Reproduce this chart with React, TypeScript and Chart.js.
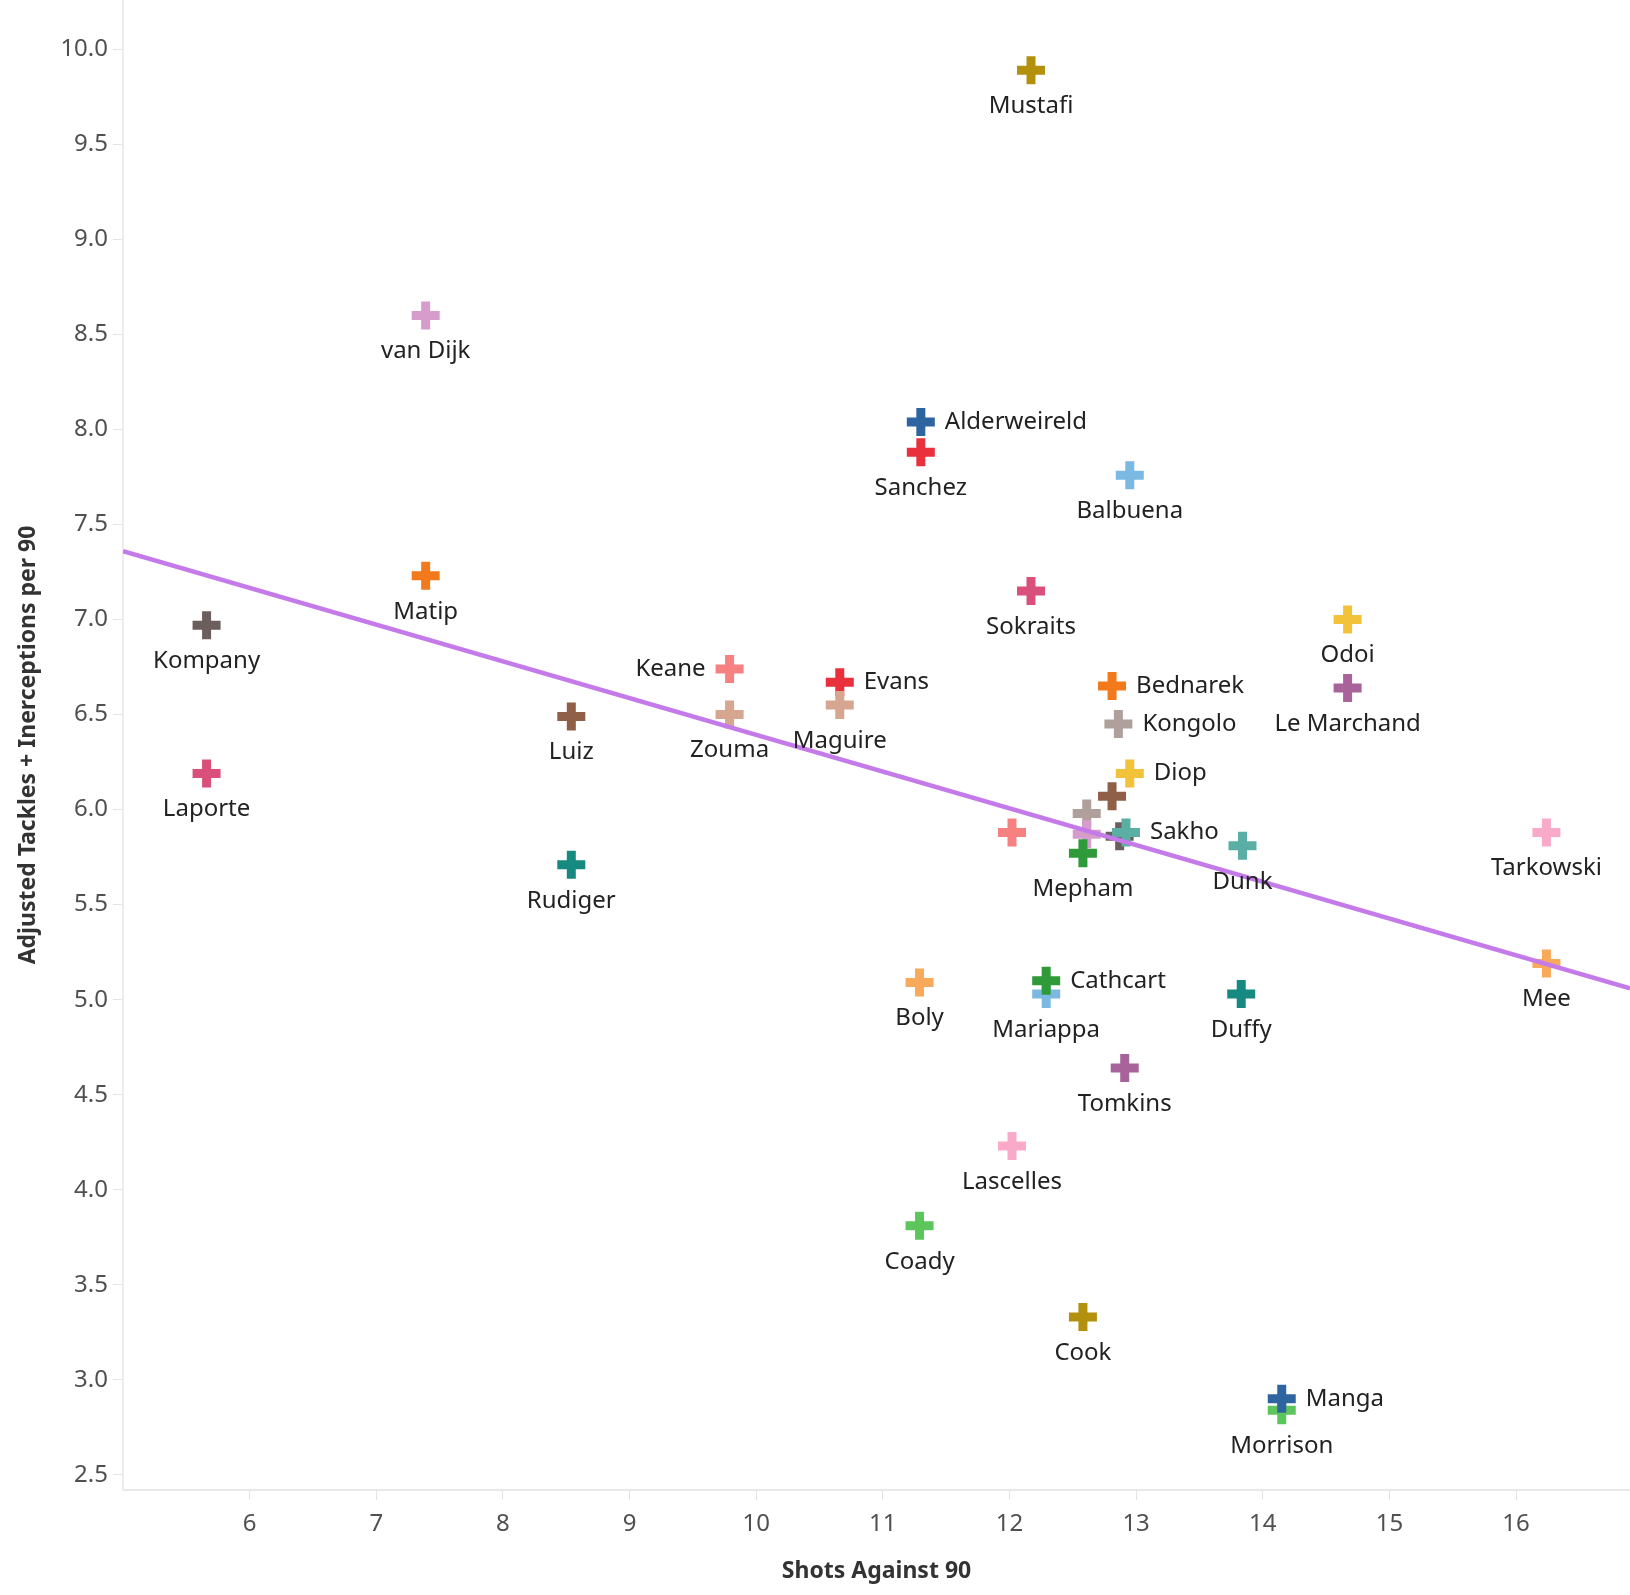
import React, { useEffect, useRef } from 'react';
import { Chart, registerables } from 'chart.js';

Chart.register(...registerables);

// ---- data ----
const players = [
  'Mustafi', 'van Dijk', 'Alderweireld', 'Sanchez', 'Balbuena', 'Matip', 'Sokraits',
  'Kompany', 'Odoi', 'Keane', 'Evans', 'Bednarek', 'Le Marchand', 'Maguire', 'Luiz',
  'Zouma', 'Kongolo', 'Laporte', 'Diop', '', '', '', '', 'Mepham', '', 'Sakho',
  'Dunk', 'Tarkowski', 'Rudiger', 'Mee', 'Boly', 'Mariappa', 'Cathcart', 'Duffy',
  'Tomkins', 'Lascelles', 'Coady', 'Cook', 'Morrison', 'Manga',
];
const shotsAgainst = [
  12.17, 7.39, 11.30, 11.30, 12.95, 7.39, 12.17,
  5.66, 14.67, 9.79, 10.66, 12.81, 14.67, 10.66, 8.54,
  9.79, 12.86, 5.66, 12.95, 12.81, 12.61, 12.02, 12.61, 12.58, 12.87, 12.92,
  13.84, 16.24, 8.54, 16.24, 11.29, 12.29, 12.29, 13.83,
  12.91, 12.02, 11.29, 12.58, 14.15, 14.15,
];
const tacklesInterceptions = [
  9.89, 8.60, 8.04, 7.88, 7.76, 7.23, 7.15,
  6.97, 7.00, 6.74, 6.67, 6.65, 6.64, 6.55, 6.49,
  6.50, 6.45, 6.19, 6.19, 6.07, 5.98, 5.88, 5.87, 5.77, 5.86, 5.88,
  5.81, 5.88, 5.71, 5.19, 5.09, 5.03, 5.10, 5.03,
  4.64, 4.23, 3.81, 3.33, 2.84, 2.90,
];
const markerColors = [
  '#b3900e', '#d69ccb', '#2e65a0', '#e8313d', '#7bb9e2', '#f27a1c', '#d9507a',
  '#6b5f5d', '#f2c23a', '#f78080', '#e8313d', '#f27a1c', '#a8649a', '#d7a691', '#8f5f47',
  '#d7a691', '#b0a09c', '#d9507a', '#f2c23a', '#8f5f47', '#b0a09c', '#f78080', '#d69ccb', '#2e9a3a', '#6b5f5d', '#5aaea4',
  '#5aaea4', '#f9aac8', '#168a80', '#f9a95a', '#f9a95a', '#7bb9e2', '#2e9a3a', '#168a80',
  '#a8649a', '#f9aac8', '#5cc55c', '#b3900e', '#5cc55c', '#2e65a0',
];
const labelSide = [
  'below', 'below', 'right', 'below', 'below', 'below', 'below',
  'below', 'below', 'left', 'right', 'right', 'below', 'below', 'below',
  'below', 'right', 'below', 'right', '', '', '', '', 'below', '', 'right',
  'below', 'below', 'below', 'below', 'below', 'below', 'right', 'below',
  'below', 'below', 'below', 'below', 'below', 'right',
];
const xTicks = [6, 7, 8, 9, 10, 11, 12, 13, 14, 15, 16];
const yTicks = [2.5, 3.0, 3.5, 4.0, 4.5, 5.0, 5.5, 6.0, 6.5, 7.0, 7.5, 8.0, 8.5, 9.0, 9.5, 10.0];
const trendX = [5.0, 16.9];
const trendY = [7.36, 5.06];

const FONT = '"Noto Sans", "Open Sans", sans-serif';
const PAGE_W = 1630;
const PAGE_H = 1595;

const labelPlugin = {
  id: 'pointLabels',
  afterDatasetsDraw(chart: any) {
    const meta = chart.getDatasetMeta(1);
    const ctx = chart.ctx;
    ctx.save();
    ctx.font = `24px ${FONT}`;
    ctx.fillStyle = '#222222';
    ctx.textBaseline = 'middle';
    meta.data.forEach((pt: any, i: number) => {
      const name = players[i];
      if (!name) return;
      const side = labelSide[i];
      if (side === 'right') {
        ctx.textAlign = 'left';
        ctx.fillText(name, pt.x + 24, pt.y);
      } else if (side === 'left') {
        ctx.textAlign = 'right';
        ctx.fillText(name, pt.x - 24, pt.y);
      } else {
        ctx.textAlign = 'center';
        ctx.fillText(name, pt.x, pt.y + 36);
      }
    });
    ctx.restore();
  },
};

function makeConfig(): any {
  return {
    type: 'scatter',
    data: {
      datasets: [
        {
          type: 'line',
          data: trendX.map((x, i) => ({ x, y: trendY[i] })),
          showLine: true,
          borderColor: '#c47ae8',
          borderWidth: 4.5,
          pointRadius: 0,
          fill: false,
          order: 0,
        },
        {
          type: 'scatter',
          data: shotsAgainst.map((x, i) => ({ x, y: tacklesInterceptions[i] })),
          pointStyle: 'cross',
          pointRadius: 14,
          pointBorderWidth: 9,
          pointBorderColor: markerColors,
          pointBackgroundColor: markerColors,
          order: 1,
        },
      ],
    },
    options: {
      responsive: false,
      animation: false,
      devicePixelRatio: 1,
      events: [],
      layout: { autoPadding: false, padding: { top: 0, right: 0, left: 0, bottom: 0 } },
      plugins: { legend: { display: false }, tooltip: { enabled: false } },
      scales: {
        x: {
          type: 'linear',
          min: 5.0,
          max: 16.9,
          afterBuildTicks: (scale: any) => {
            scale.ticks = xTicks.map((v) => ({ value: v }));
          },
          afterFit: (scale: any) => {
            scale.height = 105;
            scale.paddingLeft = 0;
            scale.paddingRight = 0;
          },
          grid: {
            display: true,
            drawOnChartArea: false,
            drawTicks: true,
            tickLength: 10,
            color: '#e4e4e4',
          },
          border: { display: true, color: '#e8e8e8', width: 2 },
          ticks: {
            color: '#505050',
            font: { family: FONT, size: 24 },
            padding: 10,
            callback: (v: any) => String(v),
          },
          title: {
            display: true,
            text: 'Shots Against 90',
            color: '#333333',
            font: { family: FONT, size: 23, weight: 'bold' },
            padding: { top: 0, bottom: 10 },
          },
        },
        y: {
          type: 'linear',
          min: 2.42,
          max: 10.26,
          afterBuildTicks: (scale: any) => {
            scale.ticks = yTicks.map((v) => ({ value: v }));
          },
          afterFit: (scale: any) => {
            scale.width = 123;
            scale.paddingTop = 0;
            scale.paddingBottom = 0;
          },
          grid: {
            display: true,
            drawOnChartArea: false,
            drawTicks: true,
            tickLength: 10,
            color: '#e4e4e4',
          },
          border: { display: true, color: '#ececec', width: 2 },
          ticks: {
            color: '#505050',
            font: { family: FONT, size: 24 },
            padding: 5,
            callback: (v: any) => Number(v).toFixed(1),
          },
          title: {
            display: true,
            text: 'Adjusted Tackles + Inerceptions per 90',
            color: '#333333',
            font: { family: FONT, size: 23, weight: 'bold' },
            padding: { top: 15, bottom: 0 },
          },
        },
      },
    },
    plugins: [labelPlugin],
  };
}

export default function App() {
  const canvasRef = useRef<HTMLCanvasElement | null>(null);

  useEffect(() => {
    document.body.style.margin = '0';
    const canvas = canvasRef.current;
    if (!canvas) return;
    const build = (w: number, h: number) => {
      canvas.width = w;
      canvas.height = h;
      canvas.style.width = `${w}px`;
      canvas.style.height = `${h}px`;
      return new Chart(canvas, makeConfig());
    };
    let chart = build(PAGE_W, PAGE_H);
    const gapTop = Math.round(chart.chartArea.top);
    const gapRight = Math.round(PAGE_W - chart.chartArea.right);
    if (gapTop > 0 || gapRight > 0) {
      chart.destroy();
      canvas.style.marginTop = `${-gapTop}px`;
      chart = build(PAGE_W + gapRight, PAGE_H + gapTop);
    }
    return () => chart.destroy();
  }, []);

  return (
    <div style={{ width: PAGE_W, height: PAGE_H, overflow: 'hidden', position: 'relative' }}>
      <canvas ref={canvasRef} width={PAGE_W} height={PAGE_H} style={{ display: 'block' }} />
    </div>
  );
}
